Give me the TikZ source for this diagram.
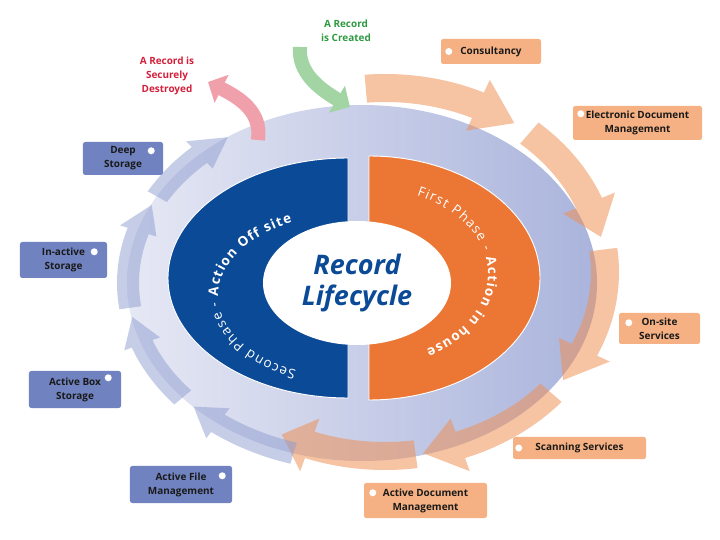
\documentclass[tikz,border=0pt]{standalone}
\usepackage{fontspec}
\setmainfont{Open Sans}
\usetikzlibrary{arrows.meta,calc,decorations.text}

\definecolor{disklight}{HTML}{E6E8F4}
\definecolor{diskdark}{HTML}{AAB4DC}
\definecolor{phaseblue}{HTML}{0B4A96}
\definecolor{phaseorange}{HTML}{EC7634}
\definecolor{boxorange}{HTML}{F5B183}
\definecolor{boxblue}{HTML}{7083C0}
\definecolor{ringorange}{HTML}{EE9158}
\definecolor{ringblue}{HTML}{8E9DD0}
\definecolor{createdgreen}{HTML}{2D9A41}
\definecolor{destroyedred}{HTML}{D41F3A}
\definecolor{bornarrow}{HTML}{A3D4A4}
\definecolor{gonearrow}{HTML}{F0A0AA}

\newcommand\boxfont{\fontsize{8.5}{12}\selectfont\bfseries}
\newcommand\ringfont{\fontsize{11.5}{13}\selectfont}

\begin{document}
\begin{tikzpicture}[
            x=0.03cm, y=-0.03cm,
            obox/.style={fill=boxorange, rounded corners=2pt, align=center,
                font=\boxfont, text=black!90, inner sep=0pt},
            bbox/.style={fill=boxblue, rounded corners=2pt, align=center,
                font=\boxfont, text=black!90, inner sep=0pt},
            bullet/.style={fill=white},
            orangeband/.style={fill=ringorange, fill opacity=0.55},
            blueband/.style={fill=ringblue, fill opacity=0.5},
            flowarrow/.style={line width=12pt, -{Triangle[length=13pt, width=26pt]}}
        ]
        \useasboundingbox (0,0) rectangle (720,540);

        % background disk
        \coordinate (hub) at (362,283);
        \coordinate (inhouse) at (385,272);
        \shade[left color=disklight, right color=diskdark] (hub) ellipse[x radius=235, y radius=178];

        % first phase arrows
        \foreach \ta/\tb/\tc in {265/295/306, 311/338/349, 353/385/396, 401/430/440, 442/470/478}
            \fill[orangeband] ($(inhouse)+(\ta:234 and 198)$)
                arc[start angle=\ta, end angle=\tb, x radius=234, y radius=198]
                -- ($(inhouse)+(\tb:248 and 212)$) -- ($(inhouse)+(\tc:220 and 184)$)
                -- ($(inhouse)+(\tb:192 and 156)$) -- ($(inhouse)+(\tb:206 and 170)$)
                arc[start angle=\tb, end angle=\ta, x radius=206, y radius=170] -- cycle;

        % second phase arrows
        \foreach \ta/\tb/\tc in {107/128/136, 140/160/169, 172/197/206, 209/226/235}
            \fill[blueband] ($(hub)+(\ta:245 and 189)$)
                arc[start angle=\ta, end angle=\tb, x radius=245, y radius=189]
                -- ($(hub)+(\tb:253 and 197)$) -- ($(hub)+(\tc:234 and 178)$)
                -- ($(hub)+(\tb:215 and 159)$) -- ($(hub)+(\tb:223 and 167)$)
                arc[start angle=\tb, end angle=\ta, x radius=223, y radius=167] -- cycle;

        % start and end of life
        \node[font=\boxfont, text=createdgreen, align=center] (created) at (346,31) {A Record\\is Created};
        \node[font=\boxfont, text=destroyedred, align=center] (destroyed) at (167,76) {A Record is\\Securely\\Destroyed};
        \coordinate (bornTail) at (300,47);
        \coordinate (bornTip) at (350,107);
        \coordinate (goneTail) at (258,140);
        \coordinate (goneTip) at (208,82);
        \draw[flowarrow, draw=bornarrow] (bornTail) .. controls (298,72) and (318,88) .. (bornTip);
        \draw[flowarrow, draw=gonearrow] (goneTail) .. controls (262,112) and (240,98) .. (goneTip);

        % the two phases
        \filldraw[fill=phaseblue, draw=white, line width=0.8pt] (348,158)
            arc[start angle=270, end angle=90, x radius=180, y radius=120] -- cycle;
        \filldraw[fill=phaseorange, draw=white, line width=0.8pt] (369,156)
            arc[start angle=-90, end angle=90, x radius=171, y radius=122] -- cycle;
        \fill[white] (357,283) ellipse[x radius=94, y radius=62];
        \node[font=\fontsize{23}{27}\selectfont\bfseries\itshape, text=phaseblue, align=center]
            (title) at (357,283) {Record\\Lifecycle};

        \coordinate (offsiteText) at (350,296);
        \coordinate (inhouseText) at (368,274);
        \path[decorate, decoration={text along path, text align=fit to path, text color=white,
                text={|\ringfont|Second Phase - |+\bfseries|Action Off site}}]
            ($(offsiteText)+(114:132 and 82)$) arc[start angle=114, end angle=244, x radius=132, y radius=82];
        \path[decorate, decoration={text along path, text align=fit to path, text color=white,
                text={|\ringfont|First Phase - |+\bfseries|Action in house}}]
            ($(inhouseText)+(-66:120 and 86)$) arc[start angle=-66, end angle=61, x radius=120, y radius=86];

        % in house services
        \node[obox, minimum width=3cm, minimum height=0.75cm] (consult) at (491,51.5) {Consultancy};
        \node[obox, minimum width=3.87cm, minimum height=1.02cm] (edm) at (637.5,123) {Electronic Document\\Management};
        \node[obox, minimum width=2.43cm, minimum height=0.93cm] (onsite) at (659.5,328.5) {On-site\\Services};
        \node[obox, minimum width=3.99cm, minimum height=0.66cm] (scan) at (579.5,448) {Scanning Services};
        \node[obox, minimum width=3.69cm, minimum height=1.05cm] (adm) at (425.5,500.5) {Active Document\\Management};
        \fill[bullet] ($(consult.west)+(8,0)$) circle[radius=3.5];
        \fill[bullet] ($(edm.north west)+(8,8)$) circle[radius=3.5];
        \fill[bullet] ($(onsite.north west)+(10,10)$) circle[radius=3.5];
        \fill[bullet] ($(scan.west)+(6,0)$) circle[radius=3.5];
        \fill[bullet] ($(adm.north west)+(9,10)$) circle[radius=3.5];

        % off site services
        \node[bbox, minimum width=3.06cm, minimum height=1.11cm] (afm) at (181,484.5) {Active File\\Management};
        \node[bbox, minimum width=2.76cm, minimum height=1.11cm] (abs) at (75,389.5) {Active Box\\Storage};
        \node[bbox, minimum width=2.61cm, minimum height=1.08cm] (ias) at (63.5,260) {In-active\\Storage};
        \node[bbox, minimum width=2.4cm, minimum height=0.99cm] (deep) at (123,158.5) {Deep\\Storage};
        \fill[bullet] ($(afm.north east)+(-10,10)$) circle[radius=3.5];
        \fill[bullet] ($(abs.north east)+(-13,7)$) circle[radius=3.5];
        \fill[bullet] ($(ias.north east)+(-13,10)$) circle[radius=3.5];
        \fill[bullet] ($(deep.north east)+(-12,9)$) circle[radius=3.5];
    \end{tikzpicture}
\end{document}
